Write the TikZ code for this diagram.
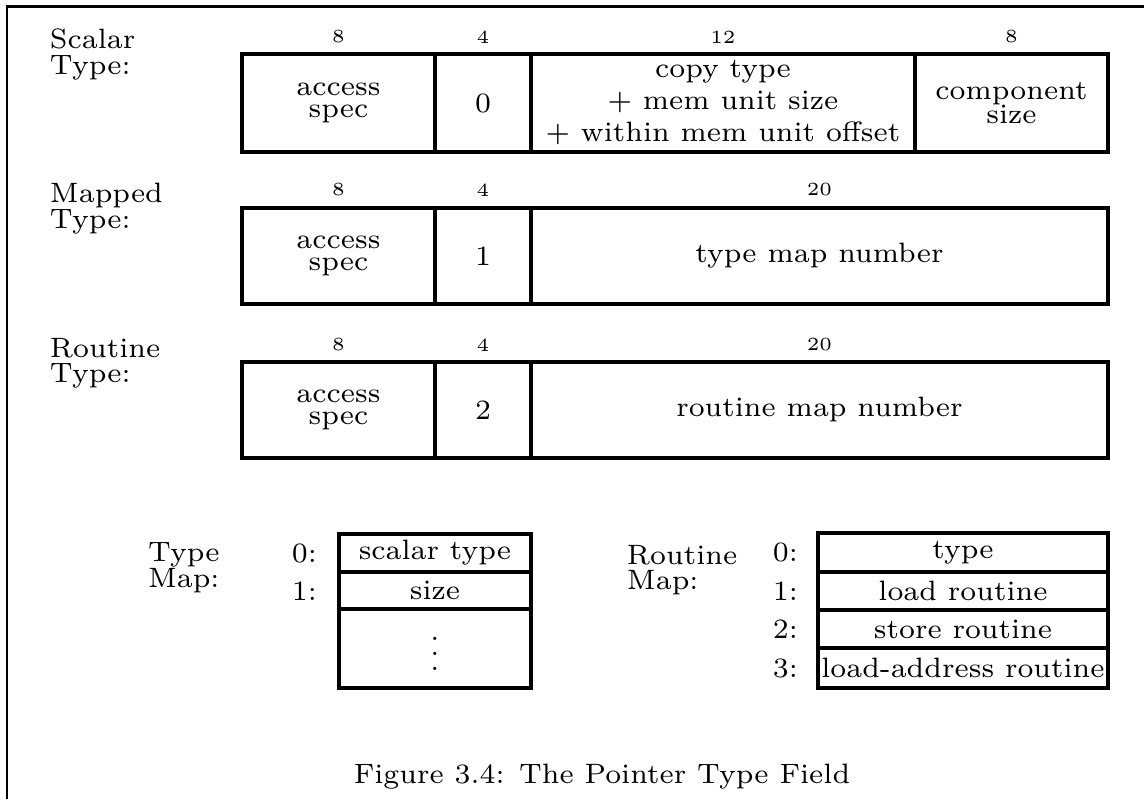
\documentclass[tikz,border=0pt]{standalone}
\def\pxu{0.264pt}
\begin{document}
\begin{tikzpicture}[x=0.264pt, y=-0.264pt,
  every node/.style={inner sep=0pt, outer sep=0pt},
  main/.style={font=\fontsize{7.4}{8.45}\selectfont},
  bits/.style={font=\fontsize{4.9}{5.5}\selectfont},
  field/.style={draw, line width=3.5*\pxu, main, align=center},
  wh/.style 2 args={minimum width=#1*\pxu, minimum height=#2*\pxu},
  frameline/.style={line width=3*\pxu},
  tight/.style={font=\fontsize{7.4}{6}\selectfont},
  lbl/.style={main, align=left, font=\fontsize{7.4}{6.8}\selectfont},
  dotstack/.style={align=center, font=\fontsize{7.4}{3.9}\selectfont},
]
\useasboundingbox (0,0) rectangle (1144,799);
\draw[frameline] (1144,7) -- (7,7) -- (7,799);

% ---------- Scalar Type ----------
\node[lbl, anchor=north west] (lscalar) at (50,29) {Scalar\\Type:};
\node[bits] (s8a) at (338.5,37) {8};
\node[bits] (s4) at (483,37) {4};
\node[bits] (s12) at (723,37) {12};
\node[bits] (s8b) at (1011.5,37) {8};
\node[field, wh={193}{98}, tight] (sa) at (338.5,103) {access\\spec};
\node[field, wh={96}{98}] (sb) at (483,103) {0};
\node[field, wh={384}{98}] (sc) at (723,103) {copy type\\+ mem unit size\\+ within mem unit offset};
\node[field, wh={193}{98}, font=\fontsize{7.4}{6.4}\selectfont] (sd) at (1011.5,103) {component\\size};

% ---------- Mapped Type ----------
\node[lbl, anchor=north west] (lmapped) at (50,183) {Mapped\\Type:};
\node[bits] (m8) at (338.5,190) {8};
\node[bits] (m4) at (483,190) {4};
\node[bits] (m20) at (819.5,190) {20};
\node[field, wh={193}{96}, tight] (ma) at (338.5,256) {access\\spec};
\node[field, wh={96}{96}] (mb) at (483,256) {1};
\node[field, wh={577}{96}] (mc) at (819.5,256) {type map number};

% ---------- Routine Type ----------
\node[lbl, anchor=north west] (lroutine) at (50,338) {Routine\\Type:};
\node[bits] (r8) at (338.5,345) {8};
\node[bits] (r4) at (483,345) {4};
\node[bits] (r20) at (819.5,345) {20};
\node[field, wh={193}{96}, tight] (ra) at (338.5,410) {access\\spec};
\node[field, wh={96}{96}] (rb) at (483,410) {2};
\node[field, wh={577}{96}] (rc) at (819.5,410) {routine map number};

% ---------- Type Map ----------
\node[lbl, anchor=north west] (ltmap) at (148,543) {Type\\Map:};
\node[main, anchor=east] (ti0) at (317,553) {0:};
\node[main, anchor=east] (ti1) at (317,591) {1:};
\node[field, wh={192}{38}] (t0) at (435,553) {scalar type};
\node[field, wh={192}{37}] (t1) at (435,590.5) {size};
\node[field, wh={192}{79}] (t2) at (435,648.5) {};
\node[dotstack] (tdots) at (435,654) {.\\.\\.};

% ---------- Routine Map ----------
\node[lbl, anchor=north west] (lrmap) at (627,545) {Routine\\Map:};
\node[main, anchor=east] (ri0) at (798,552.5) {0:};
\node[main, anchor=east] (ri1) at (798,591) {1:};
\node[main, anchor=east] (ri2) at (798,629) {2:};
\node[main, anchor=east] (ri3) at (798,668) {3:};
\node[field, wh={290}{39}] (r0) at (963,552.5) {type};
\node[field, wh={290}{38}] (r1) at (963,591) {load routine};
\node[field, wh={290}{38}] (r2) at (963,629) {store routine};
\node[field, wh={290}{40}] (r3) at (963,668) {load-address routine};

% ---------- Caption ----------
\node[main] (caption) at (602,777) {Figure 3.4: The Pointer Type Field};
\end{tikzpicture}
\end{document}
